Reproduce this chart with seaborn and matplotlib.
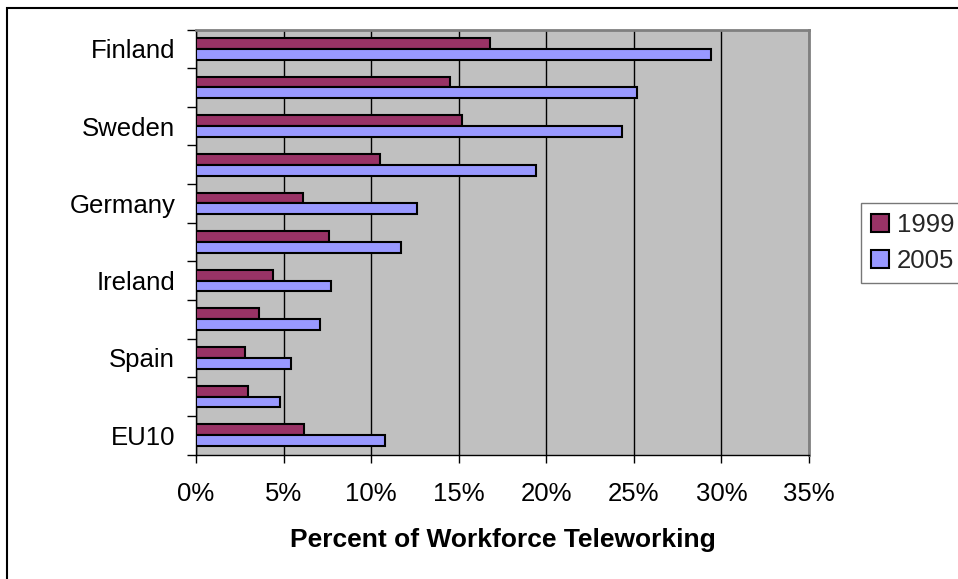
import matplotlib
matplotlib.use("Agg")
import matplotlib.pyplot as plt
from matplotlib.patches import Rectangle
from matplotlib.ticker import FixedLocator, PercentFormatter
import seaborn as sns
import pandas as pd
import numpy as np

# ---- data ----
countries = ["Finland", "Netherlands", "Sweden", "Denmark", "Germany", "UK",
             "Ireland", "Italy", "Spain", "France", "EU10"]
tick_labels = ["Finland", "", "Sweden", "", "Germany", "", "Ireland", "",
               "Spain", "", "EU10"]
years = ["1999", "2005"]
vals_1999 = [16.8, 14.5, 15.2, 10.5, 6.1, 7.6, 4.4, 3.6, 2.8, 2.95, 6.15]
vals_2005 = [29.4, 25.2, 24.3, 19.4, 12.6, 11.7, 7.7, 7.1, 5.4, 4.8, 10.8]
x_ticks = [0, 5, 10, 15, 20, 25, 30, 35]
x_label = "Percent of Workforce Teleworking"
colors = ["#993366", "#9999FF"]

df = pd.DataFrame({
    "country": countries * 2,
    "year": [years[0]] * len(countries) + [years[1]] * len(countries),
    "value": vals_1999 + vals_2005,
})

sns.set_theme(style="white")
plt.rcParams["font.family"] = ["Liberation Sans", "DejaVu Sans"]

W, H = 958, 579
fig = plt.figure(figsize=(W / 100, H / 100), dpi=100)
ax = fig.add_axes([196 / W, 1 - 454.5 / H, (809 - 196) / W, (454.5 - 29.5) / H])
ax.set_facecolor("#C0C0C0")

sns.barplot(data=df, y="country", x="value", hue="year", order=countries,
            hue_order=years, palette=colors, orient="h", width=0.56,
            edgecolor="black", linewidth=1.5, saturation=1, ax=ax, zorder=3)

ax.set_xlim(0, 35)
ax.set_ylim(10.5, -0.5)
ax.set_xticks(x_ticks)
ax.xaxis.set_major_formatter(PercentFormatter(decimals=0))
ax.grid(axis="x", color="black", linewidth=1, zorder=0)
ax.grid(axis="y", visible=False)
ax.set_axisbelow(True)

ax.set_yticks(range(len(countries)))
ax.set_yticklabels(tick_labels)
ax.yaxis.set_minor_locator(FixedLocator(np.arange(-0.5, len(countries), 1.0)))
ax.tick_params(axis="y", which="major", length=0, pad=15, labelsize=18.5,
               labelcolor="black")
ax.tick_params(axis="y", which="minor", left=True, length=6.5, width=1,
               color="black", direction="out")
ax.tick_params(axis="x", which="major", bottom=True, length=6, width=1,
               color="black", direction="out", pad=14, labelsize=18.5,
               labelcolor="black")

ax.set_ylabel("")
ax.set_xlabel(x_label, fontsize=19, fontweight="bold", labelpad=16,
              color="black")

for side in ["left", "bottom"]:
    ax.spines[side].set_color("black")
    ax.spines[side].set_linewidth(1)
for side in ["top", "right"]:
    ax.spines[side].set_color("#808080")
    ax.spines[side].set_linewidth(2)

leg = ax.legend(loc="upper left", bbox_to_anchor=(861 / W, 1 - 203 / H),
                bbox_transform=fig.transFigure, frameon=True, fancybox=False,
                fontsize=18.5, handlelength=0.7, handleheight=0.7,
                handletextpad=0.3, labelspacing=0.45, borderpad=0.4,
                borderaxespad=0)
leg.get_frame().set_edgecolor("#555555")
leg.get_frame().set_linewidth(1)
for h in leg.legend_handles:
    h.set_edgecolor("black")
    h.set_linewidth(1.5)

# outer chart-area frame (top and left edges visible)
fig.add_artist(Rectangle((7 / W, -0.2), 1.2, 1.2 - 8 / H,
                         transform=fig.transFigure, fill=False,
                         edgecolor="black", linewidth=1.5, clip_on=False))

fig.savefig("out.png", dpi=100)
